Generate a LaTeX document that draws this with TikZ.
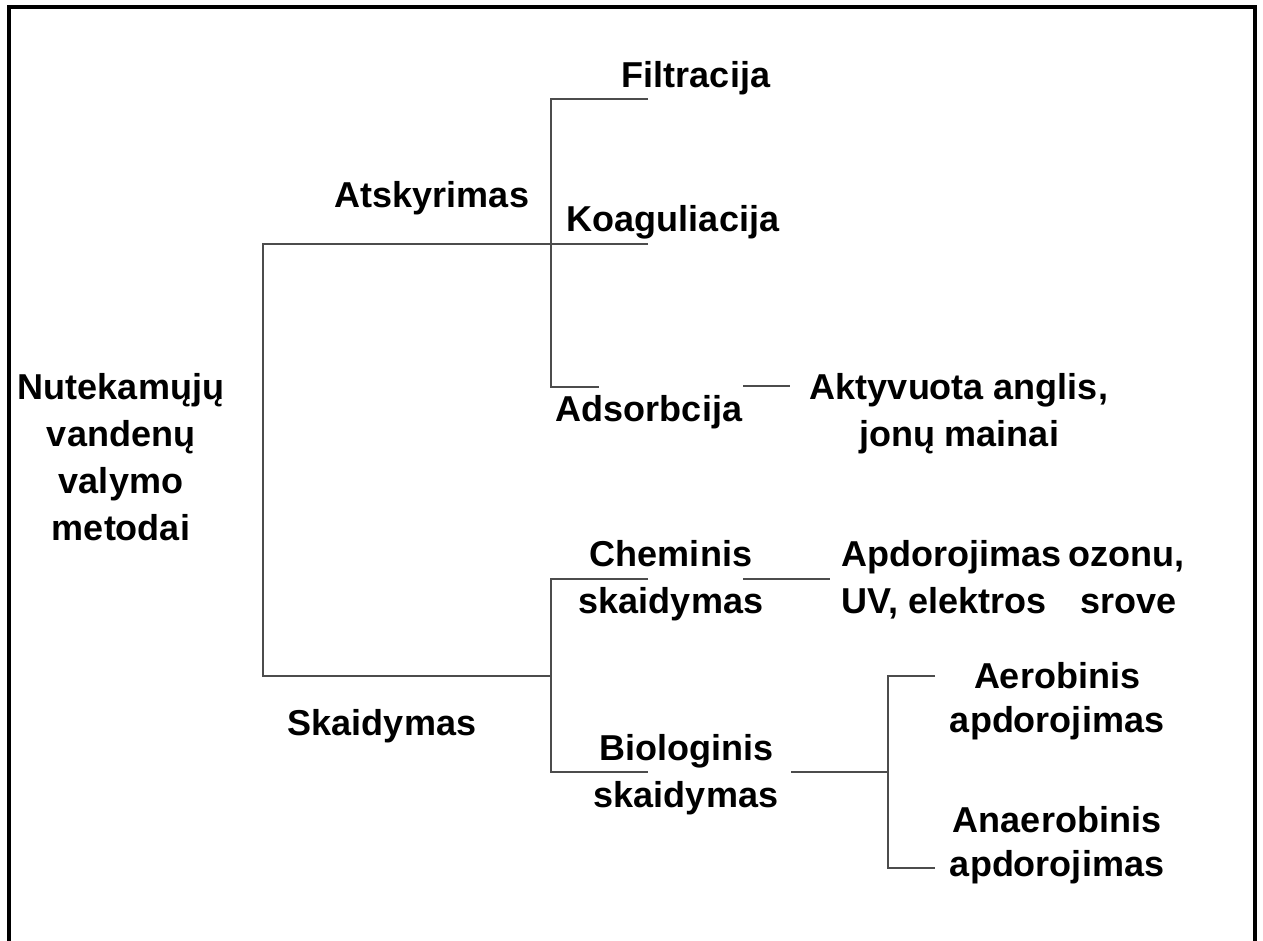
\documentclass[tikz,border=0pt]{standalone}
\usepackage{fontspec}
\setmainfont{Liberation Sans}
\begin{document}
\begin{tikzpicture}[x=1pt,y=-1pt,
  lbl/.style={font=\fontsize{36}{47}\selectfont\bfseries, inner sep=0pt, align=center, anchor=base},
  tight/.style={font=\fontsize{36}{44}\selectfont\bfseries},
  ln/.style={draw=black!70, line width=1.5pt},
  frame/.style={draw=black, line width=4pt}]
\useasboundingbox (0,0) rectangle (1263,940);
\draw[frame] (9,950) -- (9,7) -- (1255,7) -- (1255,950);
% text nodes (base anchor = baseline of the last line)
\node[lbl] (root) at (121,540) {Nutekamųjų\\vandenų\\valymo\\metodai};
\node[lbl] (atsk) at (432,207) {Atskyrimas};
\node[lbl] (filt) at (696,87) {Filtracija};
\node[lbl] (koag) at (673,231) {Koaguliacija};
\node[lbl] (adso) at (649,421) {Adsorbcija};
\node[lbl] (akty) at (959,446) {Aktyvuota anglis,\\jonų mainai};
\node[lbl] (skai) at (382,735) {Skaidymas};
\node[lbl] (chem) at (671,613) {Cheminis\\skaidymas};
\node[lbl] (apdo) at (1009,613) {\makebox[335pt][s]{Apdorojimas ozonu,}\\\makebox[335pt][s]{UV, elektros\hfill srove}};
\node[lbl] (biol) at (686,807) {Biologinis\\skaidymas};
\node[lbl,tight] (aero) at (1057,732) {Aerobinis\\apdorojimas};
\node[lbl,tight] (anae) at (1057,876) {Anaerobinis\\apdorojimas};
% junction coordinates
\coordinate (j0t) at (263,244);
\coordinate (j0b) at (263,676);
\coordinate (kend) at (648,244);
\coordinate (j2m) at (551,676);
\coordinate (j1t) at (551,99);
\coordinate (fend) at (648,99);
\coordinate (j1b) at (551,387);
\coordinate (aend) at (599,387);
\coordinate (ad1) at (743,386);
\coordinate (ad2) at (790,386);
\coordinate (j2t) at (551,579);
\coordinate (cend) at (648,579);
\coordinate (j2b) at (551,772);
\coordinate (bend) at (648,772);
\coordinate (c1) at (743,579);
\coordinate (c2) at (830,579);
\coordinate (b1) at (791,772);
\coordinate (j3m) at (888,772);
\coordinate (j3t) at (888,676);
\coordinate (j3b) at (888,868);
\coordinate (aeend) at (935,676);
\coordinate (anend) at (935,868);
% connectors
\draw[ln] (kend) -- (j0t) -- (j0b) -- (j2m);
\draw[ln] (fend) -- (j1t) -- (j1b) -- (aend);
\draw[ln] (ad1) -- (ad2);
\draw[ln] (cend) -- (j2t) -- (j2b) -- (bend);
\draw[ln] (c1) -- (c2);
\draw[ln] (b1) -- (j3m);
\draw[ln] (aeend) -- (j3t) -- (j3b) -- (anend);
\end{tikzpicture}
\end{document}
